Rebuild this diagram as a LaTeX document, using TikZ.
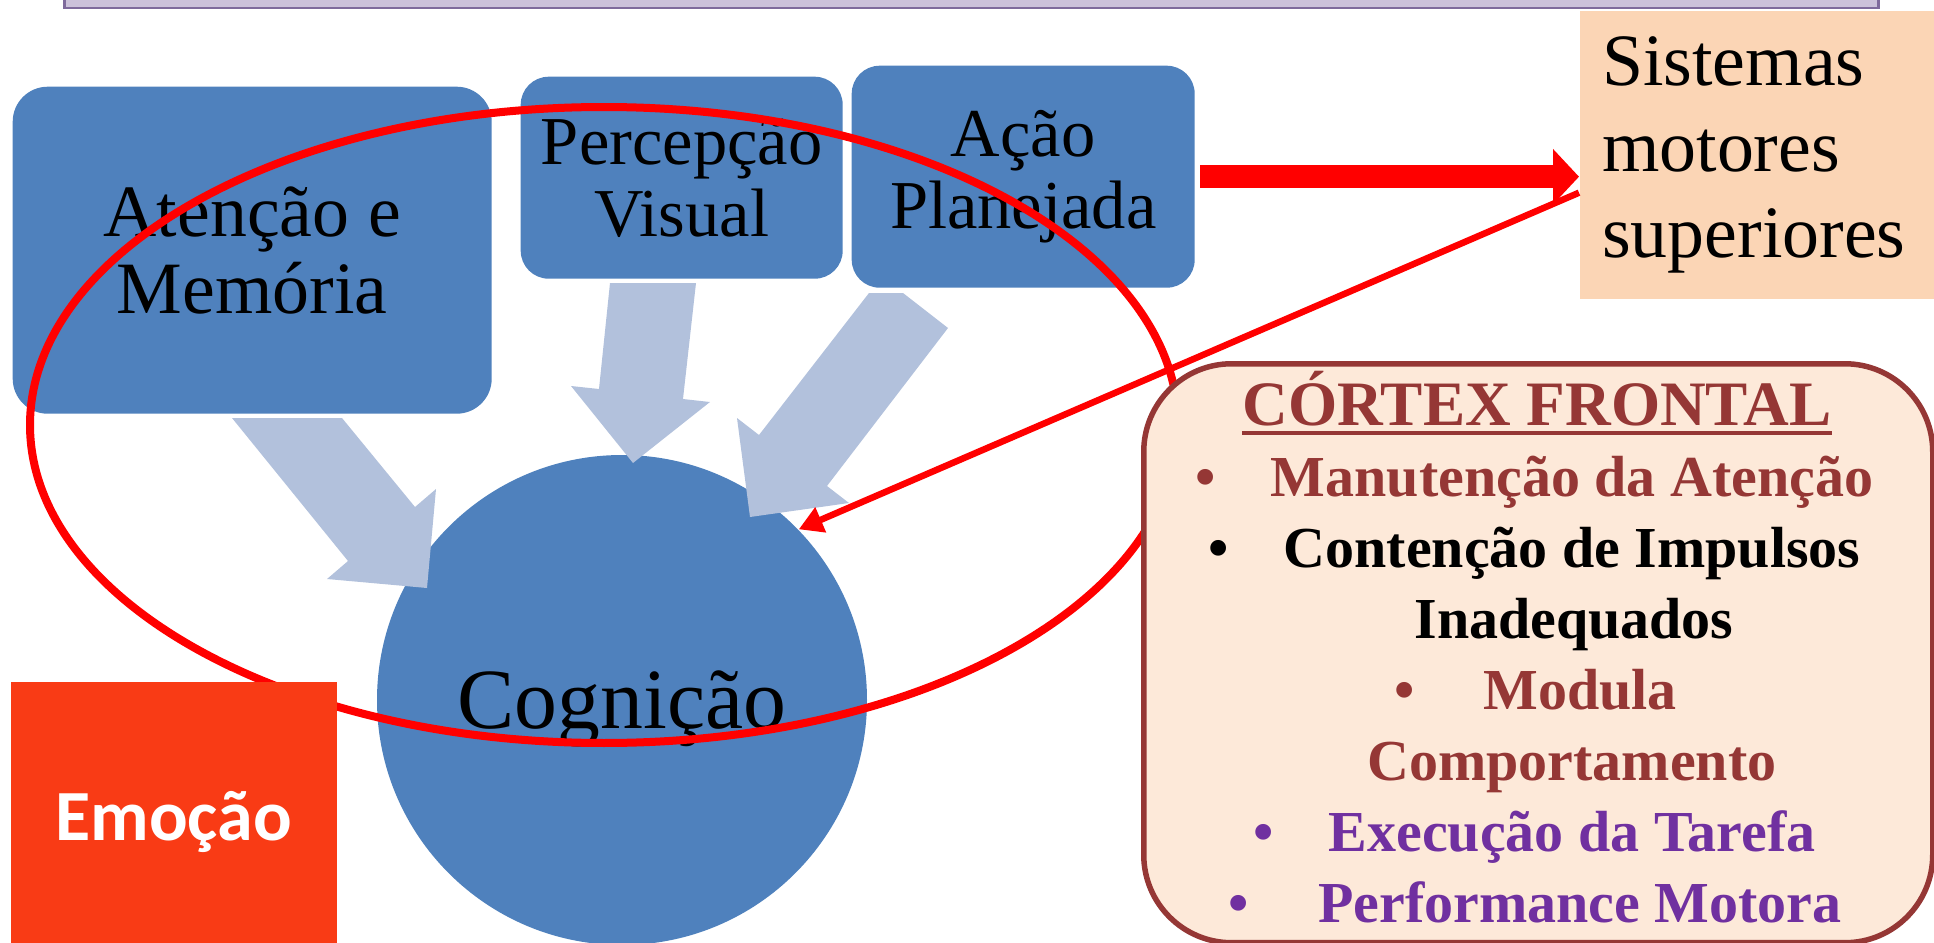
\documentclass[tikz,border=0pt]{standalone}
\usepackage{fontspec}
\setmainfont{Liberation Serif}
\newfontfamily\calibri{Carlito}
\usepackage{xcolor}
\usetikzlibrary{arrows.meta}
\definecolor{boxblue}{HTML}{4F81BD}
\definecolor{arrowblue}{HTML}{B2C1DC}
\definecolor{peach}{HTML}{FBD5B5}
\definecolor{cortexfill}{HTML}{FDE9D9}
\definecolor{cortexbrown}{HTML}{953735}
\definecolor{cortexpurple}{HTML}{7030A0}
\definecolor{emored}{HTML}{F93B15}
\definecolor{bannerfill}{HTML}{CCC1DA}
\definecolor{bannerline}{HTML}{7F6A9C}

\begin{document}
\begin{tikzpicture}[x=0.1mm,y=-0.1mm,
    bluebox/.style={fill=boxblue,rounded corners=3.5mm,anchor=north west,align=center,inner sep=0pt},
    bigarrow/.style={fill=arrowblue},
    redline/.style={draw=red,line width=0.8mm},
    item/.style={anchor=base,inner sep=0pt,font=\fontsize{16.5}{19}\selectfont\bfseries}]
  \useasboundingbox (0,0) rectangle (1934,943);
  \draw[fill=bannerfill,draw=bannerline,line width=0.3mm] (64,-40) rectangle (1878,8);
  \node[fill=peach,anchor=north west,minimum width=36.5mm,minimum height=28.8mm,text width=32mm,align=left,inner xsep=2.1mm,font=\fontsize{21}{24.5}\selectfont] (sistemas) at (1579,10) {Sistemas\\motores\\superiores};

  % blue boxes
  \node[bluebox,minimum width=47.9mm,minimum height=32.7mm,font=\fontsize{21}{21.9}\selectfont] (atencao) at (12,86) {Atenção e\\Memória};
  \node[bluebox,minimum width=32.2mm,minimum height=20.2mm,rounded corners=2.8mm,font=\fontsize{19.5}{20.5}\selectfont] (percepcao) at (520,76) {Percepção\\Visual};
  \node[bluebox,minimum width=34.3mm,minimum height=22.2mm,rounded corners=2.8mm,font=\fontsize{19.5}{20.5}\selectfont] (acao) at (851,65) {Ação\\Planejada};
  \node[circle,fill=boxblue,minimum size=49mm,inner sep=0pt,text height=6mm,text depth=0.4mm,font=\fontsize{24.4}{26}\selectfont] (cog) at (622,700) {Cognição};

  % light arrows into the circle
  \fill[bigarrow] (232,418) -- (342,418) -- (415,507) -- (436,489) -- (427,588) -- (327,579) -- (348,561) -- cycle;
  \fill[bigarrow] (610,283) -- (696,283) -- (683,399) -- (710,402) -- (633,463) -- (571,386) -- (599,389) -- cycle;
  \fill[bigarrow] (869,293) -- (903,293) -- (948,328) -- (827,486) -- (849,503) -- (750,517) -- (737,418) -- (759,435) -- cycle;

  \draw[red,line width=2.3mm,-{Triangle[length=2.6mm,width=5.4mm]},shorten <=0.5mm] (acao.east) -- (acao.east -| sistemas.west);
  \draw[redline] (604,425) ellipse [x radius=57.4mm,y radius=31.8mm];
  \coordinate (motorstart) at ([yshift=-3.8mm]sistemas.west);
  \draw[red,line width=0.65mm,-{Triangle[length=2.4mm,width=2.6mm]}] (motorstart) -- (cog.44);

  % frontal cortex
  \node[draw=cortexbrown,fill=cortexfill,line width=0.55mm,rounded corners=8.8mm,anchor=north west,minimum width=78.9mm,minimum height=57.9mm] (cortex) at (1141,361) {};
  \node[anchor=base,inner sep=0pt,text=cortexbrown,font=\fontsize{18}{20}\selectfont\bfseries] (titulo) at (1537,425) {CÓRTEX FRONTAL};
  \draw[cortexbrown,line width=0.45mm] ([yshift=-0.8mm]titulo.base west) -- ([yshift=-0.8mm]titulo.base east);
  \node[item,text=cortexbrown] (manut) at (1572,496) {Manutenção da Atenção};
  \node[item,text=cortexbrown] (b1) at ([xshift=-6.4mm]manut.base west) {\textbullet};
  \node[item] (contencao) at (1572,567) {Contenção de Impulsos};
  \node[item] (b2) at ([xshift=-6.4mm]contencao.base west) {\textbullet};
  \node[item] (inadequados) at (1574,638) {Inadequados};
  \node[item,text=cortexbrown] (modula) at (1580,709) {Modula};
  \node[item,text=cortexbrown] (b3) at ([xshift=-7.8mm]modula.base west) {\textbullet};
  \node[item,text=cortexbrown] (comport) at (1572,780) {Comportamento};
  \node[item,text=cortexpurple] (execucao) at (1572,851) {Execução da Tarefa};
  \node[item,text=cortexpurple] (b4) at ([xshift=-6.4mm]execucao.base west) {\textbullet};
  \node[item,text=cortexpurple] (performance) at (1580,922) {Performance Motora};
  \node[item,text=cortexpurple] (b5) at ([xshift=-7.9mm]performance.base west) {\textbullet};

  \node[fill=emored,anchor=north west,minimum width=32.6mm,minimum height=28mm,text=white,font=\calibri\bfseries\fontsize{20.5}{24}\selectfont] (emocao) at (10,681) {Emoção};
\end{tikzpicture}
\end{document}
